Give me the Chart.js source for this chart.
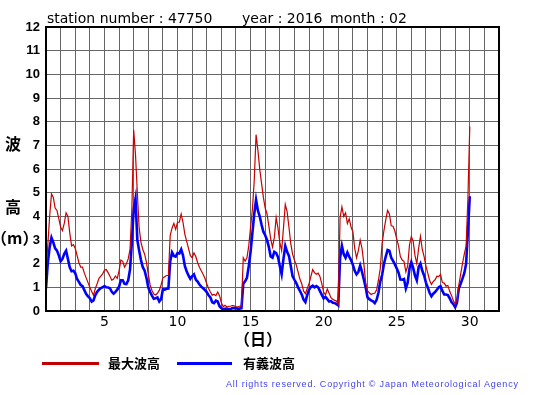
<!DOCTYPE html>
<html lang="ja">
<head>
<meta charset="utf-8">
<script src="https://cdn.jsdelivr.net/npm/chart.js@4"></script>
<style>
  html, body { margin: 0; padding: 0; background: #fff; }
  #wrap { position: relative; width: 555px; height: 395px; overflow: hidden; }
  #chart { position: absolute; left: 0; top: 0; }
  .t { position: absolute; white-space: nowrap; line-height: 1; color: #000; }
  .head { font-family: "DejaVu Sans"; font-size: 14px; top: 11px; }
  .jp { font-family: "Noto Sans CJK JP"; font-weight: bold; }
  .ylab { font-size: 16px; }
  .key { font-size: 13px; top: 356px; }
  .swatch { position: absolute; top: 362px; height: 3px; }
  .copy { font-family: "Liberation Sans"; font-size: 9px; letter-spacing: 0.8px; color: #4444ee; left: 226px; top: 380px; }
</style>
</head>
<body>
<div id="wrap">
  <canvas id="chart" width="555" height="395"></canvas>

  <div class="t head" style="left:47px">station number : 47750</div>
  <div class="t head" style="left:242px">year : 2016</div>
  <div class="t head" style="left:330px">month : 02</div>

  <div class="t jp ylab" style="left:5px; top:135px">波</div>
  <div class="t jp ylab" style="left:5px; top:198px">高</div>
  <div class="t jp ylab" style="left:-9px; top:229px">（m）</div>
  <div class="t jp ylab" style="left:234px; top:330px">（日）</div>

  <div class="swatch" style="left:42px; width:57px; background:#c00000"></div>
  <div class="t jp key" style="left:108px">最大波高</div>
  <div class="swatch" style="left:177px; width:55px; background:#0000ff"></div>
  <div class="t jp key" style="left:243px">有義波高</div>

  <div class="t copy">All rights reserved. Copyright © Japan Meteorological Agency</div>
</div>

<script>
// --- Data: February 2016, one value every 3 hours from day 1 00:00 ---
const START_DAY = 1;
const STEP_HOURS = 3;

// 最大波高 (max wave height, m)
const maxWave = [
    1.6, 2.8, 4.0, 4.95, 4.8, 4.35, 4.25, 3.9,
    3.55, 3.4, 3.7, 4.15, 4.0, 3.3, 2.75, 2.8,
    2.65, 2.35, 2.05, 1.85, 1.85, 1.6, 1.4, 1.2,
    1.0, 0.82, 0.66, 0.95, 1.15, 1.38, 1.47, 1.57,
    1.72, 1.75, 1.62, 1.47, 1.3, 1.35, 1.48, 1.38,
    1.7, 2.15, 2.1, 1.85, 2.0, 2.2, 2.6, 4.3,
    7.65, 6.6, 5.0, 3.5, 2.9, 2.6, 2.4, 2.05,
    1.55, 1.1, 0.87, 0.72, 0.68, 0.75, 0.87, 1.1,
    1.4, 1.45, 1.5, 1.5, 3.2, 3.5, 3.7, 3.45,
    3.75, 3.75, 4.1, 3.75, 3.25, 2.95, 2.65, 2.35,
    2.25, 2.45, 2.3, 2.05, 1.85, 1.7, 1.55, 1.38,
    1.15, 0.95, 0.8, 0.67, 0.7, 0.65, 0.8, 0.65,
    0.35, 0.18, 0.24, 0.17, 0.2, 0.2, 0.23, 0.22,
    0.18, 0.18, 0.2, 0.22, 2.25, 2.1, 2.25, 2.75,
    3.55, 4.3, 5.5, 7.45, 6.8, 6.0, 5.4, 4.8,
    4.35, 4.1, 3.6, 3.05, 2.7, 3.1, 3.95, 3.5,
    2.9, 2.55, 3.5, 4.5, 4.2, 3.55, 2.85, 2.4,
    2.15, 1.95, 1.65, 1.35, 1.15, 0.85, 0.73, 0.95,
    1.15, 1.45, 1.75, 1.62, 1.55, 1.6, 1.45, 1.15,
    0.8, 0.68, 0.93, 0.75, 0.56, 0.5, 0.45, 0.42,
    0.3, 3.95, 4.4, 4.0, 4.15, 3.7, 3.9, 3.55,
    3.35, 2.65, 2.25, 2.55, 3.0, 2.65, 2.0, 1.2,
    0.86, 0.77, 0.7, 0.74, 0.75, 0.9, 1.3, 1.8,
    2.85, 3.4, 3.85, 4.25, 4.1, 3.6, 3.58, 3.38,
    3.05, 2.75, 2.3, 2.15, 2.1, 1.65, 1.9, 2.8,
    3.15, 2.95, 2.35, 2.0, 2.65, 3.15, 2.6, 2.3,
    1.9, 1.6, 1.3, 1.12, 1.25, 1.32, 1.47, 1.45,
    1.55, 1.2, 1.18, 1.05, 1.08, 0.83, 0.66, 0.44,
    0.29, 0.45, 1.1, 1.55, 2.0, 2.4, 2.75, 4.8,
    7.8
];

// 有義波高 (significant wave height, m)
const sigWave = [
    0.95, 2.05, 2.7, 3.1, 2.9, 2.65, 2.55, 2.35,
    2.1, 2.2, 2.42, 2.55, 2.2, 1.85, 1.68, 1.7,
    1.6, 1.35, 1.23, 1.1, 1.05, 0.88, 0.72, 0.62,
    0.54, 0.4, 0.45, 0.67, 0.81, 0.9, 0.97, 1.0,
    1.05, 1.0, 0.99, 0.96, 0.81, 0.73, 0.81, 0.9,
    1.03, 1.3, 1.3, 1.15, 1.14, 1.3, 1.75, 2.9,
    4.3, 4.75, 3.0, 2.55, 2.15, 1.85, 1.7, 1.4,
    1.0, 0.8, 0.65, 0.52, 0.54, 0.57, 0.4, 0.5,
    0.92, 0.9, 0.94, 0.95, 2.1, 2.48, 2.33, 2.3,
    2.45, 2.43, 2.6, 2.35, 1.9, 1.68, 1.5, 1.36,
    1.47, 1.55, 1.33, 1.24, 1.12, 1.03, 0.96, 0.89,
    0.8, 0.66, 0.57, 0.37, 0.33, 0.44, 0.4, 0.2,
    0.12, 0.08, 0.09, 0.1, 0.08, 0.08, 0.12, 0.12,
    0.11, 0.1, 0.1, 0.12, 1.15, 1.25, 1.4, 1.9,
    2.5, 3.3, 4.1, 4.7, 4.25, 4.0, 3.65, 3.35,
    3.2, 3.0, 2.7, 2.3, 2.25, 2.5, 2.45, 2.28,
    1.9, 1.55, 2.2, 2.75, 2.5, 2.33, 1.9, 1.47,
    1.32, 1.18, 1.0, 0.85, 0.7, 0.48, 0.38, 0.67,
    0.9, 1.02, 1.07, 1.0, 1.05, 1.0, 0.84, 0.68,
    0.53, 0.6, 0.5, 0.4, 0.42, 0.35, 0.34, 0.29,
    0.24, 2.25, 2.75, 2.4, 2.25, 2.47, 2.3, 2.15,
    1.95, 1.7, 1.55, 1.65, 1.92, 1.65, 1.33, 1.0,
    0.58, 0.5, 0.45, 0.41, 0.33, 0.47, 0.77, 1.24,
    1.52, 1.98, 2.3, 2.58, 2.55, 2.25, 2.12, 1.97,
    1.8, 1.62, 1.33, 1.32, 1.35, 0.95, 1.2, 1.8,
    2.07, 1.82, 1.5, 1.3, 1.85, 2.0, 1.7, 1.5,
    1.2, 1.0, 0.77, 0.62, 0.73, 0.8, 0.9, 1.0,
    1.05, 0.85, 0.7, 0.7, 0.67, 0.54, 0.38, 0.29,
    0.16, 0.35, 0.95, 1.15, 1.37, 1.6, 2.0, 3.4,
    4.85
];

// Axis ranges / labelled ticks
const X_MIN = 1, X_MAX = 32;
const Y_MIN = 0, Y_MAX = 12;
const xTickDays = [5, 10, 15, 20, 25, 30];

const toPoints = arr => arr.map((v, i) => ({ x: START_DAY + i * STEP_HOURS / 24, y: v }));

// black frame round the plot area
const framePlugin = {
    id: 'frame',
    afterDraw(chart) {
        const { ctx, chartArea: a } = chart;
        ctx.save();
        ctx.strokeStyle = '#000';
        ctx.lineWidth = 2;
        ctx.strokeRect(a.left, a.top, a.right - a.left, a.bottom - a.top);
        ctx.restore();
    },
};

new Chart(document.getElementById('chart'), {
    type: 'line',
    data: {
        datasets: [
            {
                label: '最大波高',
                data: toPoints(maxWave),
                borderColor: '#c80000',
                borderWidth: 1.2,
                pointRadius: 0,
                tension: 0,
            },
            {
                label: '有義波高',
                data: toPoints(sigWave),
                borderColor: '#0000ff',
                borderWidth: 2.6,
                pointRadius: 0,
                tension: 0,
            },
        ],
    },
    options: {
        responsive: false,
        devicePixelRatio: 1,
        animation: false,
        layout: { padding: { top: 27, right: 56, left: 0, bottom: 0 } },
        plugins: {
            legend: { display: false },
            tooltip: { enabled: false },
        },
        scales: {
            x: {
                type: 'linear',
                min: X_MIN,
                max: X_MAX,
                afterFit: s => { s.height = 84; },
                grid: { color: '#666', lineWidth: 1, drawTicks: false },
                border: { color: '#000', width: 2 },
                ticks: {
                    stepSize: 1,
                    autoSkip: false,
                    maxRotation: 0,
                    padding: 3,
                    color: '#000',
                    font: { family: 'DejaVu Sans', size: 14 },
                    callback: v => xTickDays.includes(v) ? String(v) : '',
                },
            },
            y: {
                min: Y_MIN,
                max: Y_MAX,
                afterFit: s => { s.width = 46; },
                grid: { color: '#666', lineWidth: 1, drawTicks: false },
                border: { color: '#000', width: 2 },
                ticks: {
                    stepSize: 1,
                    padding: 6,
                    color: '#000',
                    font: { family: 'Liberation Sans', size: 13, weight: 'bold' },
                },
            },
        },
    },
    plugins: [framePlugin],
});
</script>
</body>
</html>
